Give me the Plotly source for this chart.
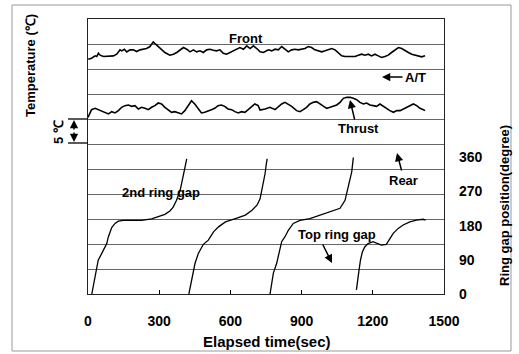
import plotly.graph_objects as go

# ---------------- data ----------------
# Front temperature (relative scale, degC)
front_t = [1, 15, 30, 37, 44, 51, 65, 86, 107, 121, 135, 142, 153, 163, 177, 191, 205, 219, 233, 247,
           261, 275, 285, 296, 310, 324, 345, 360, 374, 388, 402, 416, 430, 444, 458, 472, 486, 500,
           514, 528, 542, 556, 570, 584, 598, 612, 626, 640, 655, 669, 683, 697, 711, 725, 739, 746,
           760, 774, 788, 802, 816, 830, 844, 858, 872, 886, 900, 914, 928, 942, 956, 970, 985, 999,
           1013, 1027, 1041, 1055, 1069, 1083, 1097, 1111, 1125, 1139, 1153, 1167, 1181, 1195, 1209,
           1223, 1237, 1251, 1265, 1279, 1294, 1308, 1322, 1336, 1350, 1364, 1378, 1392, 1406, 1420]
front_T = [46.97, 47.17, 47.63, 47.50, 48.16, 47.77, 47.50, 47.50, 47.63, 47.96, 48.83, 48.63, 48.96,
           48.43, 48.83, 48.83, 48.50, 48.83, 48.96, 49.09, 49.49, 50.42, 49.96, 49.49, 48.83, 48.30,
           47.77, 47.96, 48.30, 48.83, 49.29, 48.96, 48.43, 48.83, 48.43, 48.63, 48.30, 48.83, 48.96,
           48.76, 48.63, 48.83, 48.16, 47.96, 48.30, 48.63, 49.09, 49.29, 48.96, 49.63, 49.09, 49.63,
           49.09, 48.43, 48.30, 48.43, 48.83, 48.63, 48.96, 48.83, 49.49, 48.96, 48.43, 48.83, 48.96,
           48.83, 48.96, 49.09, 49.49, 49.29, 48.83, 48.63, 48.43, 48.63, 48.83, 49.09, 48.83, 48.30,
           47.63, 47.50, 47.50, 47.63, 47.50, 47.77, 47.96, 47.77, 47.96, 47.63, 47.96, 47.63, 47.30,
           47.50, 47.77, 48.30, 48.83, 49.29, 49.09, 48.63, 48.30, 47.96, 47.77, 47.50, 47.43, 47.63]

# Rear (Thrust) temperature (relative scale, degC)
rear_t = [0, 8, 15, 30, 44, 58, 72, 86, 100, 114, 128, 142, 156, 170, 184, 198, 212, 226, 240, 254,
          268, 282, 296, 310, 324, 338, 352, 366, 380, 394, 408, 422, 436, 450, 464, 478, 492, 506,
          520, 534, 548, 562, 576, 590, 605, 619, 633, 647, 661, 675, 689, 703, 717, 725, 746, 767,
          788, 802, 816, 830, 844, 858, 879, 893, 907, 921, 935, 949, 963, 977, 991, 1006, 1020,
          1034, 1048, 1062, 1076, 1090, 1104, 1118, 1132, 1146, 1160, 1174, 1188, 1202, 1216, 1230,
          1244, 1258, 1272, 1287, 1301, 1315, 1329, 1343, 1357, 1371, 1385, 1399, 1413, 1420]
rear_T = [35.3, 36.3, 36.87, 37.14, 36.87, 36.47, 36.21, 36.01, 36.47, 36.21, 36.67, 37.34, 37.67,
          37.80, 37.53, 37.67, 37.00, 37.34, 37.14, 36.87, 37.34, 37.67, 38.20, 38.00, 37.34, 36.87,
          36.34, 36.47, 36.21, 36.01, 36.67, 37.67, 38.66, 38.00, 37.14, 36.21, 36.34, 36.67, 36.87,
          37.14, 37.67, 37.80, 37.53, 37.00, 36.87, 36.47, 36.21, 36.47, 36.34, 36.87, 37.53, 38.00,
          37.67, 36.80, 37.00, 37.34, 36.87, 37.53, 38.00, 38.33, 38.00, 37.53, 36.67, 36.47, 36.87,
          37.34, 38.00, 38.33, 38.46, 38.00, 37.53, 37.14, 37.34, 37.53, 37.80, 38.33, 39.13, 39.33,
          39.33, 39.13, 38.86, 38.33, 38.00, 38.20, 37.80, 37.67, 37.53, 38.00, 37.53, 37.00, 36.67,
          36.34, 36.67, 36.67, 37.00, 37.34, 37.80, 38.00, 37.67, 37.14, 36.87, 36.67]

# 2nd ring gap position (degree), wraps at 360
gap2_t1 = [16, 22, 30, 37, 43, 58, 72, 79, 86, 93, 100, 114, 128, 149, 184, 226, 268, 296, 324, 345,
           359, 373, 388, 397, 409, 416]
gap2_d1 = [0, 19, 45, 67, 89, 107, 124, 133, 151, 164, 175, 186, 192, 194, 194, 194, 198, 203, 210,
           219, 229, 247, 273, 299, 330, 356]
gap2_t2 = [425, 434, 440, 451, 465, 486, 507, 529, 550, 579, 621, 663, 691, 712, 725, 732, 739, 746,
           752, 755]
gap2_d2 = [0, 28, 55, 81, 107, 131, 142, 164, 177, 190, 199, 208, 221, 234, 251, 273, 299, 317, 346,
           356]
gap2_t3 = [767, 774, 781, 795, 809, 816, 830, 844, 865, 893, 935, 977, 1019, 1062, 1083, 1093, 1104,
           1111, 1115, 1118]
gap2_d3 = [0, 28, 55, 81, 116, 138, 151, 168, 186, 194, 199, 208, 217, 226, 247, 273, 299, 321, 343,
           360]
# Top ring gap position (degree)
top_t = [1131, 1138, 1142, 1148, 1156, 1166, 1180, 1201, 1218, 1236, 1257, 1272, 1286, 1307, 1328,
         1356, 1384, 1412, 1422]
top_d = [11, 37, 63, 89, 111, 124, 133, 138, 133, 129, 131, 146, 160, 173, 182, 190, 195, 197, 195]

x_ticks = [0, 300, 600, 900, 1200, 1500]
deg_ticks = [0, 90, 180, 270, 360]

# ---------------- figure ----------------
W, H = 519, 354
L, R, T, B = 88, 75, 19, 60
PW, PH = W - L - R, H - T - B


def px(x):
    return (x - L) / PW


def py(y):
    return (H - B - y) / PH


fig = go.Figure()
line_temp = dict(color="black", width=1.6)
line_gap = dict(color="black", width=1.3)

fig.add_trace(go.Scatter(x=front_t, y=front_T, mode="lines", line=line_temp, name="Front"))
fig.add_trace(go.Scatter(x=rear_t, y=rear_T, mode="lines", line=line_temp, name="Rear"))
for tt, dd in [(gap2_t1, gap2_d1), (gap2_t2, gap2_d2), (gap2_t3, gap2_d3)]:
    fig.add_trace(go.Scatter(x=tt, y=dd, mode="lines", line=line_gap, yaxis="y2",
                             name="2nd ring gap"))
fig.add_trace(go.Scatter(x=top_t, y=top_d, mode="lines", line=line_gap, yaxis="y2",
                         name="Top ring gap"))

bold = dict(family="Liberation Sans, Arial, sans-serif", color="black", weight="bold")

fig.update_layout(
    width=W, height=H,
    margin=dict(l=L, r=R, t=T, b=B, pad=0),
    paper_bgcolor="white", plot_bgcolor="white",
    showlegend=False,
    xaxis=dict(range=[0, 1500], tickvals=x_ticks, ticks="inside", ticklen=4, tickcolor="black",
               showline=True, linecolor="#222", linewidth=1, mirror=True, showgrid=False,
               zeroline=False, tickfont=dict(size=14, **bold), ticklabelstandoff=14),
    yaxis=dict(range=[0, 55], dtick=5, showticklabels=False, ticks="", showgrid=True,
               gridcolor="#666", gridwidth=1, showline=True, linecolor="#222", linewidth=1,
               mirror=True, zeroline=False),
    yaxis2=dict(range=[0, 725], tickvals=deg_ticks, overlaying="y", side="right", showgrid=False,
                showline=False, zeroline=False, ticks="", tickfont=dict(size=14, **bold),
                ticklabelstandoff=14),
)

ann = []


def text(x, y, s, size=13, angle=0):
    ann.append(dict(x=px(x), y=py(y), xref="paper", yref="paper", text="<b>" + s + "</b>",
                    showarrow=False, textangle=angle, xanchor="center", yanchor="middle",
                    font=dict(family="Liberation Sans, Arial, sans-serif", size=size, color="black")))


def arrow(x_tip, y_tip, x_tail, y_tail, head=2):
    ann.append(dict(x=px(x_tip), y=py(y_tip), xref="paper", yref="paper", text="",
                    showarrow=True, ax=x_tail - x_tip, ay=y_tail - y_tip, axref="pixel",
                    ayref="pixel", arrowhead=head, arrowsize=1.1, arrowwidth=1.5,
                    arrowcolor="black", standoff=0, startstandoff=0))


text(267, 341, "Elapsed time(sec)", size=15)
text(30, 66, "Temperature (℃)", size=13, angle=-90)
text(505, 206, "Ring gap position(degree)", size=13, angle=-90)
text(58, 132, "5 ℃", size=13, angle=-90)
text(246, 38, "Front", size=13)
text(415, 77, "A/T", size=13)
text(358, 128, "Thrust", size=13)
text(403, 180, "Rear", size=13)
text(161, 192, "2nd ring gap", size=13)
text(337, 234, "Top ring gap", size=13)

arrow(382, 77, 404, 77)
arrow(350, 100, 355, 121)
arrow(397, 153, 402, 172)
arrow(332, 263, 322, 243)
arrow(74, 120, 74, 131)
arrow(74, 142, 74, 131)

shapes = [
    dict(type="line", xref="paper", yref="paper", x0=px(68), x1=px(88), y0=py(119), y1=py(119),
         line=dict(color="black", width=1.3)),
    dict(type="line", xref="paper", yref="paper", x0=px(68), x1=px(88), y0=py(143), y1=py(143),
         line=dict(color="black", width=1.3)),
    dict(type="rect", xref="paper", yref="paper", x0=px(12), x1=px(511), y0=py(351), y1=py(5),
         line=dict(color="#999", width=1)),
]

fig.update_layout(annotations=ann, shapes=shapes)
fig.write_html("out.html", config={"displayModeBar": False},
               post_script="document.body.style.margin='0';document.body.style.padding='0';")
